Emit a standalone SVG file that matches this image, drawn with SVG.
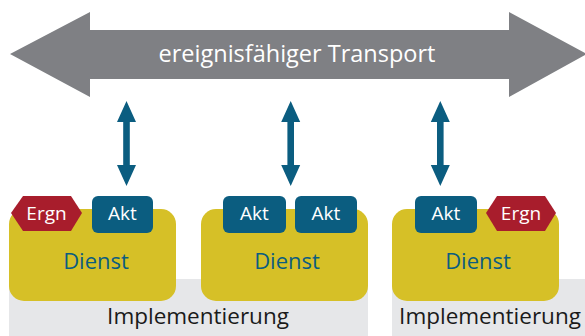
<svg xmlns="http://www.w3.org/2000/svg" width="585" height="336" viewBox="0 0 585 336">
  <defs>
    <style>
      .impl { fill: #e6e7e9; }
      .svc { fill: #d6c027; }
      .akt { fill: #0b5d80; }
      .ergn { fill: #a81d2c; }
      .lbl { font-family: "Open Sans", "Noto Sans", sans-serif; }
      .white { fill: #ffffff; }
      .tag { font-size: 19px; }
      .svcText { fill: #0b5d80; font-size: 22px; }
      .implText { fill: #1a1a1a; font-size: 22.5px; }
      .flow { fill: #0b5d80; }
    </style>
    <!-- vertical double arrow, centred on x = 0 -->
    <path id="vArrow" d="M0,101 L9.5,122 L3.3,122 L3.3,165 L9.5,165 L0,186 L-9.5,165 L-3.3,165 L-3.3,122 L-9.5,122 Z"/>
  </defs>

  <rect width="585" height="336" fill="#ffffff"/>

  <!-- implementation layers -->
  <g id="impl1">
    <rect class="impl" x="9" y="279" width="359" height="57"/>
    <text class="lbl implText" x="198" y="324" text-anchor="middle">Implementierung</text>
  </g>
  <g id="impl2">
    <rect class="impl" x="392" y="279" width="193" height="57"/>
    <text class="lbl implText" x="490" y="324" text-anchor="middle">Implementierung</text>
  </g>

  <!-- event-capable transport -->
  <g id="transport">
    <polygon fill="#7f8084" points="10,54 90,12 90,30 509,30 509,12 587,54 509,97 509,79 90,79 90,97"/>
    <text class="lbl white" x="297" y="62" font-size="23.5" text-anchor="middle">ereignisfähiger Transport</text>
  </g>

  <!-- connectors -->
  <g id="connectors">
    <use href="#vArrow" class="flow" x="126.5"/>
    <use href="#vArrow" class="flow" x="290.7"/>
    <use href="#vArrow" class="flow" x="440.3"/>
  </g>

  <!-- service 1 -->
  <g id="dienst1">
    <rect class="svc" x="9" y="209" width="167" height="92" rx="15"/>
    <text class="lbl svcText" x="96" y="269" text-anchor="middle">Dienst</text>
  </g>
  <g id="ergn1">
    <polygon class="ergn" points="11,213 23,196 71,196 82,213 71,231 23,231"/>
    <text class="lbl white tag" x="46.5" y="220" text-anchor="middle">Ergn</text>
  </g>
  <g id="akt1">
    <rect class="akt" x="92" y="196" width="61" height="37" rx="6"/>
    <text class="lbl white tag" x="122.5" y="220" text-anchor="middle">Akt</text>
  </g>

  <!-- service 2 -->
  <g id="dienst2">
    <rect class="svc" x="201" y="209" width="167" height="92" rx="15"/>
    <text class="lbl svcText" x="287" y="269" text-anchor="middle">Dienst</text>
  </g>
  <g id="akt2">
    <rect class="akt" x="223" y="196" width="63" height="37" rx="6"/>
    <text class="lbl white tag" x="254.5" y="220" text-anchor="middle">Akt</text>
  </g>
  <g id="akt3">
    <rect class="akt" x="295" y="196" width="62" height="37" rx="6"/>
    <text class="lbl white tag" x="326" y="220" text-anchor="middle">Akt</text>
  </g>

  <!-- service 3 -->
  <g id="dienst3">
    <rect class="svc" x="392" y="209" width="167" height="92" rx="15"/>
    <text class="lbl svcText" x="478" y="269" text-anchor="middle">Dienst</text>
  </g>
  <g id="akt4">
    <rect class="akt" x="415" y="196" width="62" height="37" rx="6"/>
    <text class="lbl white tag" x="446" y="220" text-anchor="middle">Akt</text>
  </g>
  <g id="ergn2">
    <polygon class="ergn" points="486,213 497,196 545,196 556,213 545,231 497,231"/>
    <text class="lbl white tag" x="521" y="220" text-anchor="middle">Ergn</text>
  </g>
</svg>
